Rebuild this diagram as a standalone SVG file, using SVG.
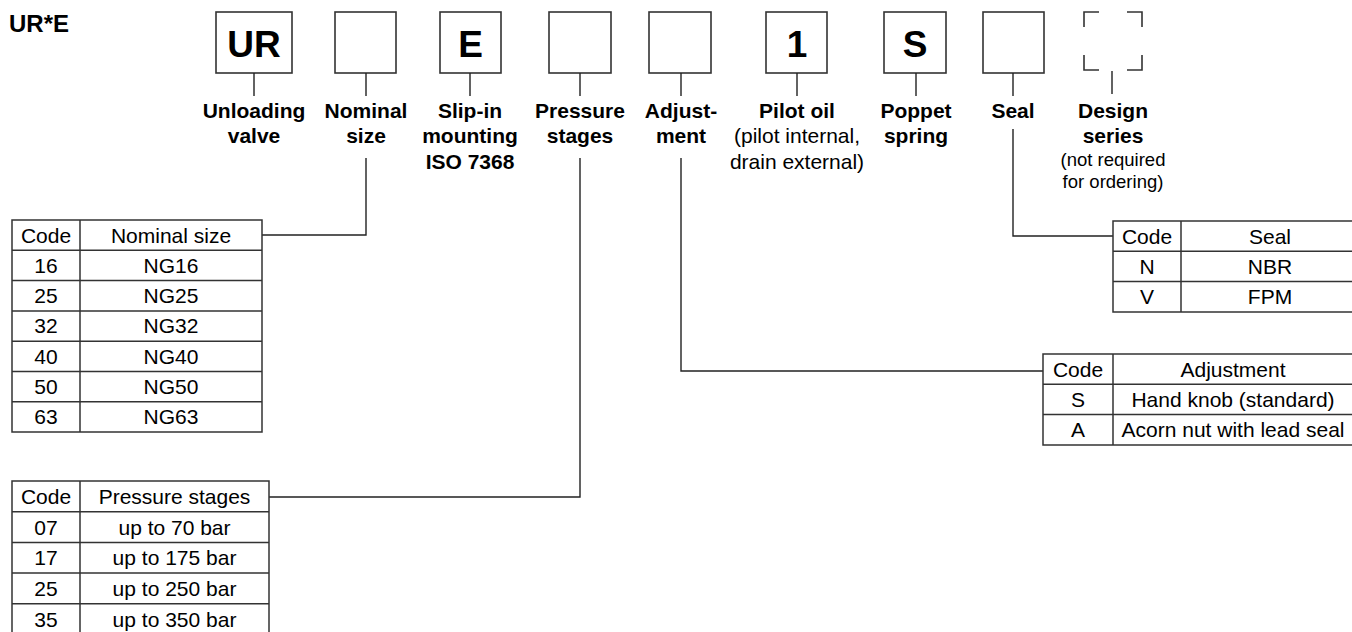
<svg xmlns="http://www.w3.org/2000/svg" width="1352" height="632" viewBox="0 0 1352 632">
<style>
text{font-family:"Liberation Sans",Arial,sans-serif;fill:#000}
.t{font-size:24px;font-weight:bold}
.bx{fill:#fff;stroke:#333;stroke-width:1.6}
.bt{font-size:37px;font-weight:bold;text-anchor:middle}
.lb{font-size:21px;font-weight:bold;text-anchor:middle}
.lr{font-size:21px;text-anchor:middle}
.ls{font-size:18.5px;text-anchor:middle}
.tb{fill:none;stroke:#333;stroke-width:1.5}
.tt{font-size:21px;text-anchor:middle}
.cn{fill:none;stroke:#222;stroke-width:1.4}
.ds{fill:none;stroke:#333;stroke-width:1.6}
</style>
<text class="t" x="9" y="32">UR*E</text>

<g id="n-ur"><rect class="bx" x="216" y="12" width="76" height="61"/><text class="bt" x="254" y="57">UR</text>
<text class="lb" x="254" y="118">Unloading</text><text class="lb" x="254" y="143">valve</text></g>
<g id="n-size"><rect class="bx" x="335" y="12" width="61" height="61"/>
<text class="lb" x="366" y="118">Nominal</text><text class="lb" x="366" y="143">size</text></g>
<g id="n-e"><rect class="bx" x="440" y="12" width="61" height="61"/><text class="bt" x="470.5" y="57">E</text>
<text class="lb" x="470" y="118">Slip-in</text><text class="lb" x="470" y="143">mounting</text><text class="lb" x="470" y="169">ISO 7368</text></g>
<g id="n-press"><rect class="bx" x="549" y="12" width="62" height="61"/>
<text class="lb" x="580" y="118">Pressure</text><text class="lb" x="580" y="143">stages</text></g>
<g id="n-adj"><rect class="bx" x="649" y="12" width="62" height="61"/>
<text class="lb" x="681" y="118">Adjust-</text><text class="lb" x="681" y="143">ment</text></g>
<g id="n-pilot"><rect class="bx" x="766" y="12" width="61" height="61"/><text class="bt" x="797" y="57">1</text>
<text class="lb" x="797" y="118">Pilot oil</text><text class="lr" x="797" y="143">(pilot internal,</text><text class="lr" x="797" y="169">drain external)</text></g>
<g id="n-spring"><rect class="bx" x="884" y="12" width="62" height="61"/><text class="bt" x="915" y="57">S</text>
<text class="lb" x="916" y="118">Poppet</text><text class="lb" x="916" y="143">spring</text></g>
<g id="n-seal"><rect class="bx" x="983" y="12" width="61" height="61"/>
<text class="lb" x="1013" y="118">Seal</text></g>
<g id="n-design"><path class="ds" d="M1084 27V12H1099M1127 12H1142V27M1084 55V70H1099M1127 70H1142V55"/>
<text class="lb" x="1113" y="118">Design</text><text class="lb" x="1113" y="143">series</text>
<text class="ls" x="1113" y="166">(not required</text><text class="ls" x="1113" y="188">for ordering)</text></g>

<g id="connectors">
<path class="cn" d="M254 73V96M366 73V96M470 73V96M580 73V96M681 73V96M797 73V96M916 73V96M1013 73V96M1112 71V94"/>
<path class="cn" d="M366 158V235H262"/>
<path class="cn" d="M580 158V497H269"/>
<path class="cn" d="M681 158V371H1043"/>
<path class="cn" d="M1013 129V236H1113"/>
</g>

<g id="t-size">
<path class="tb" d="M12 220H262V432H12ZM80 220V432M12 250.3H262M12 280.6H262M12 310.9H262M12 341.2H262M12 371.5H262M12 401.8H262"/>
<text class="tt" x="46" y="242.5">Code</text><text class="tt" x="171" y="242.5">Nominal size</text>
<text class="tt" x="46" y="272.8">16</text><text class="tt" x="171" y="272.8">NG16</text>
<text class="tt" x="46" y="303.1">25</text><text class="tt" x="171" y="303.1">NG25</text>
<text class="tt" x="46" y="333.4">32</text><text class="tt" x="171" y="333.4">NG32</text>
<text class="tt" x="46" y="363.7">40</text><text class="tt" x="171" y="363.7">NG40</text>
<text class="tt" x="46" y="394">50</text><text class="tt" x="171" y="394">NG50</text>
<text class="tt" x="46" y="424.3">63</text><text class="tt" x="171" y="424.3">NG63</text>
</g>

<g id="t-press">
<path class="tb" d="M12 640V481H269V640M80 481V640M12 511.7H269M12 542.4H269M12 573.1H269M12 603.8H269"/>
<text class="tt" x="46" y="504">Code</text><text class="tt" x="174.5" y="504">Pressure stages</text>
<text class="tt" x="46" y="534.7">07</text><text class="tt" x="174.5" y="534.7">up to 70 bar</text>
<text class="tt" x="46" y="565.4">17</text><text class="tt" x="174.5" y="565.4">up to 175 bar</text>
<text class="tt" x="46" y="596.1">25</text><text class="tt" x="174.5" y="596.1">up to 250 bar</text>
<text class="tt" x="46" y="626.8">35</text><text class="tt" x="174.5" y="626.8">up to 350 bar</text>
</g>

<g id="t-seal">
<path class="tb" d="M1360 221H1113V312H1360M1181 221V312M1113 251.3H1360M1113 281.6H1360"/>
<text class="tt" x="1147" y="243.5">Code</text><text class="tt" x="1270" y="243.5">Seal</text>
<text class="tt" x="1147" y="273.8">N</text><text class="tt" x="1270" y="273.8">NBR</text>
<text class="tt" x="1147" y="304.1">V</text><text class="tt" x="1270" y="304.1">FPM</text>
</g>

<g id="t-adj">
<path class="tb" d="M1360 354H1043V445H1360M1113 354V445M1043 384.3H1360M1043 414.6H1360"/>
<text class="tt" x="1078" y="376.5">Code</text><text class="tt" x="1233" y="376.5">Adjustment</text>
<text class="tt" x="1078" y="406.8">S</text><text class="tt" x="1233" y="406.8">Hand knob (standard)</text>
<text class="tt" x="1078" y="437.1">A</text><text class="tt" x="1233" y="437.1">Acorn nut with lead seal</text>
</g>
</svg>
